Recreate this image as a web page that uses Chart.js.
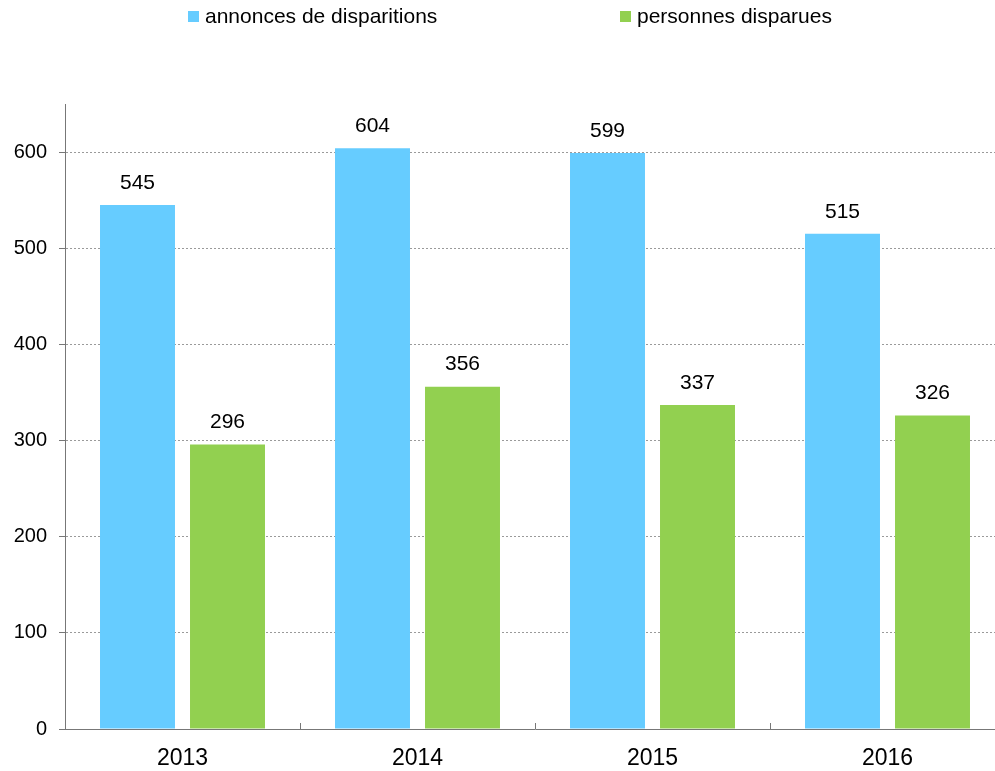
<!DOCTYPE html>
<html>
<head>
<meta charset="utf-8">
<script src="https://cdn.jsdelivr.net/npm/chart.js@4/dist/chart.umd.min.js"></script>
<style>
  html, body { margin: 0; padding: 0; background: #fff; overflow: hidden; }
  #wrap { position: relative; width: 995px; height: 771px; overflow: hidden; }
  canvas { position: absolute; left: 0; top: 0; }
  .leg { position: absolute; top: 4px; font: 21px 'Liberation Sans', Arial, sans-serif; color: #000; white-space: nowrap; }
  .leg i { display: inline-block; width: 11px; height: 11px; margin-right: 6px; vertical-align: 1px; }
</style>
</head>
<body>
<div id="wrap">
  <canvas id="c" width="1005" height="771"></canvas>
  <div class="leg" style="left:188px"><i style="background:#66ccff"></i>annonces de disparitions</div>
  <div class="leg" style="left:620px"><i style="background:#92d050"></i>personnes disparues</div>
</div>
<script>
// ── Data ────────────────────────────────────────────────
const years = ['2013', '2014', '2015', '2016'];
const annonces = [545, 604, 599, 515];
const personnes = [296, 356, 337, 326];
const yTicks = [0, 100, 200, 300, 400, 500, 600];

const FONT = 'Liberation Sans';

// value labels above bars
const barLabels = {
  id: 'barLabels',
  afterDatasetsDraw(chart) {
    const ctx = chart.ctx;
    ctx.save();
    ctx.font = `21px ${FONT}`;
    ctx.fillStyle = '#000';
    ctx.textAlign = 'center';
    ctx.textBaseline = 'middle';
    chart.data.datasets.forEach((ds, i) => {
      chart.getDatasetMeta(i).data.forEach((bar, j) => {
        ctx.fillText(ds.data[j], bar.x, bar.y - 22);
      });
    });
    ctx.restore();
  }
};

// small tick marks between categories, pointing up into the plot
const catTicks = {
  id: 'catTicks',
  afterDraw(chart) {
    const x = chart.scales.x, ctx = chart.ctx, b = chart.chartArea.bottom;
    const half = (x.getPixelForValue(1) - x.getPixelForValue(0)) / 2;
    ctx.save();
    ctx.strokeStyle = '#777';
    ctx.lineWidth = 1;
    ctx.beginPath();
    for (let i = 0; i <= years.length; i++) {
      const px = Math.round(x.getPixelForValue(0) - half + i * half * 2) + 0.5;
      ctx.moveTo(px, b); ctx.lineTo(px, b - 6);
    }
    ctx.stroke();
    ctx.restore();
  }
};

new Chart(document.getElementById('c'), {
  type: 'bar',
  data: {
    labels: years,
    datasets: [
      { label: 'annonces de disparitions', data: annonces, backgroundColor: '#66ccff', categoryPercentage: 0.766, barPercentage: 0.833 },
      { label: 'personnes disparues', data: personnes, backgroundColor: '#92d050', categoryPercentage: 0.766, barPercentage: 0.833 }
    ]
  },
  options: {
    responsive: false, animation: false,
    layout: { padding: { top: 104, left: 0, right: 0, bottom: 0 } },
    plugins: { legend: { display: false }, tooltip: { enabled: false } },
    scales: {
      x: {
        afterFit: s => { s.height = 42; },
        border: { color: '#777', width: 1 },
        grid: { display: false },
        ticks: { color: '#000', font: { family: FONT, size: 23 }, padding: 8 }
      },
      y: {
        min: 0, max: 650,
        afterFit: s => { s.width = 65; },
        afterBuildTicks: s => { s.ticks = yTicks.map(v => ({ value: v })).concat([{ value: 650 }]); },
        border: { color: '#777', width: 1, dash: [2, 2] },
        grid: {
          color: c => (c.tick && c.tick.value > 0 && c.tick.value < 650) ? '#9a9a9a' : 'rgba(0,0,0,0)',
          tickColor: c => (c.tick && c.tick.value < 650) ? '#777' : 'rgba(0,0,0,0)',
          tickLength: 6,
          tickBorderDash: []
        },
        ticks: {
          color: '#000', font: { family: FONT, size: 20 }, padding: 12,
          callback: v => v === 650 ? '' : v
        }
      }
    }
  },
  plugins: [barLabels, catTicks]
});
</script>
</body>
</html>
